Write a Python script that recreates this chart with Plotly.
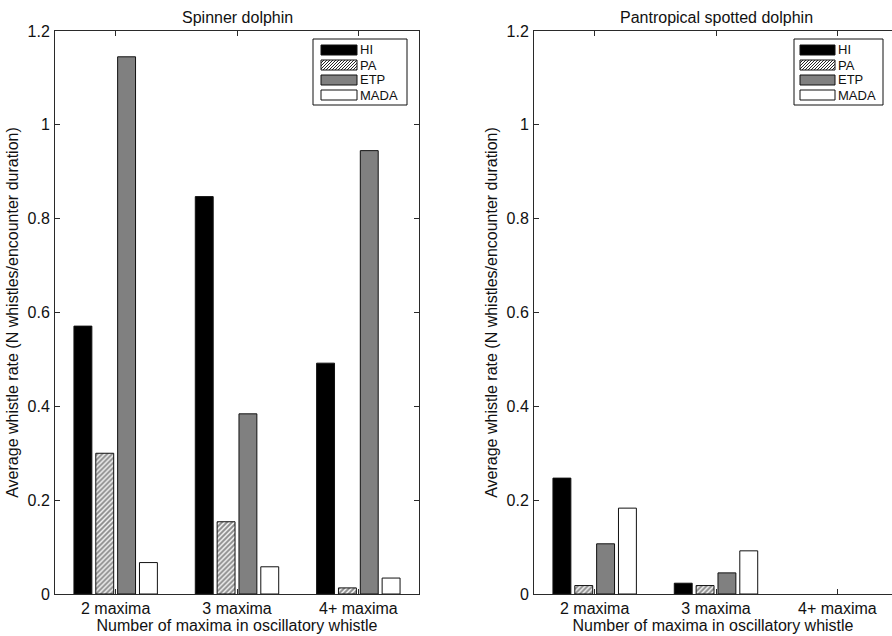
import plotly.graph_objects as go

# ---------------- data ----------------
categories = ["2 maxima", "3 maxima", "4+ maxima"]
cat_pos = [1, 2, 3]
series_names = ["HI", "PA", "ETP", "MADA"]

spinner_HI = [0.571, 0.847, 0.492]
spinner_PA = [0.300, 0.154, 0.013]
spinner_ETP = [1.145, 0.384, 0.945]
spinner_MADA = [0.067, 0.058, 0.034]

spotted_HI = [0.247, 0.023, 0.0]
spotted_PA = [0.018, 0.018, 0.0]
spotted_ETP = [0.107, 0.045, 0.0]
spotted_MADA = [0.183, 0.092, 0.0]

y_ticks = [0, 0.2, 0.4, 0.6, 0.8, 1.0, 1.2]
y_tick_text = ["0", "0.2", "0.4", "0.6", "0.8", "1", "1.2"]

panel_titles = ["Spinner dolphin", "Pantropical spotted dolphin"]
x_title = "Number of maxima in oscillatory whistle"
y_title = "Average whistle rate (N whistles/encounter duration)"

# ---------------- styling ----------------
W, H = 892, 636
FONT = "Liberation Sans, Arial, Helvetica, sans-serif"
AX = "#2a2a2a"
styles = {
    "HI": dict(color="black"),
    "PA": dict(color="white", pattern=dict(shape="/", fgcolor="#1a1a1a", bgcolor="white", size=3.5, solidity=0.6)),
    "ETP": dict(color="#808080"),
    "MADA": dict(color="white"),
}

def px_x(p):
    return p / W

def px_y(p):
    return 1 - p / H

fig = go.Figure()

panels = [
    ("x", "y", [spinner_HI, spinner_PA, spinner_ETP, spinner_MADA]),
    ("x2", "y2", [spotted_HI, spotted_PA, spotted_ETP, spotted_MADA]),
]
for xa, ya, vals in panels:
    for name, v in zip(series_names, vals):
        st = styles[name]
        widths = [1 if val > 0 else 0 for val in v]
        marker = dict(color=st["color"], line=dict(color="#111111", width=widths))
        if "pattern" in st:
            marker["pattern"] = st["pattern"]
        fig.add_trace(go.Bar(x=cat_pos, y=v, name=name, marker=marker,
                             xaxis=xa, yaxis=ya, showlegend=False,
                             hoverinfo="x+y+name"))

y_dom = [px_y(594), px_y(31)]
common_x = dict(tickmode="array", tickvals=cat_pos, ticktext=categories,
                ticks="inside", ticklen=5, tickcolor=AX, showline=True,
                linecolor=AX, linewidth=1, showgrid=False, zeroline=False,
                tickfont=dict(size=16, color="#111"), automargin=False,
                ticklabelstandoff=0,
                title=dict(text=x_title, font=dict(size=16, color="#111"), standoff=0))
common_y = dict(tickmode="array", tickvals=y_ticks, ticktext=y_tick_text,
                range=[0, 1.2], ticks="inside", ticklen=5, tickcolor=AX,
                showline=True, linecolor=AX, linewidth=1, showgrid=False,
                zeroline=False, tickfont=dict(size=16, color="#111"),
                automargin=False, domain=y_dom, ticklabelstandoff=1,
                title=dict(text=y_title, font=dict(size=16, color="#111"), standoff=4))

fig.update_layout(
    width=W, height=H,
    margin=dict(l=0, r=0, t=0, b=0, pad=0),
    paper_bgcolor="white", plot_bgcolor="white",
    font=dict(family=FONT, color="#111"),
    barmode="group", bargap=0.28, bargroupgap=0.18,
    xaxis=dict(common_x, domain=[px_x(55), px_x(419)], range=[0.5, 3.5],
               mirror="ticks", anchor="y"),
    yaxis=dict(common_y, mirror="ticks", anchor="x"),
    xaxis2=dict(common_x, domain=[px_x(534), 1.0], range=[0.5, 0.5 + 358 / (364 / 3)],
                mirror="ticks", anchor="y2"),
    yaxis2=dict(common_y, mirror=False, anchor="x2"),
)

annotations = []
# panel titles
annotations.append(dict(text=panel_titles[0], x=px_x(237), y=px_y(18), xref="paper", yref="paper",
                        showarrow=False, font=dict(size=16, color="#111"), xanchor="center", yanchor="middle"))
annotations.append(dict(text=panel_titles[1], x=px_x(716), y=px_y(18), xref="paper", yref="paper",
                        showarrow=False, font=dict(size=16, color="#111"), xanchor="center", yanchor="middle"))

shapes = []

def add_legend(x0, x1, y0, y1, sw_x0, sw_x1, txt_x):
    shapes.append(dict(type="rect", xref="paper", yref="paper",
                       x0=px_x(x0), x1=px_x(x1), y0=px_y(y0), y1=px_y(y1),
                       line=dict(color="#111", width=1), fillcolor="white", layer="above"))
    row_tops = [45, 60, 75, 90]
    for name, top in zip(series_names, row_tops):
        bot = top + 10
        st = styles[name]
        shapes.append(dict(type="rect", xref="paper", yref="paper",
                           x0=px_x(sw_x0), x1=px_x(sw_x1), y0=px_y(bot), y1=px_y(top),
                           line=dict(color="#111", width=1), fillcolor=st["color"], layer="above"))
        if name == "PA":
            path = ""
            step = 3
            xs = sw_x0 - 10
            while xs < sw_x1:
                ax0, ay0 = xs, bot
                ax1, ay1 = xs + 10, top
                if ax0 < sw_x0:
                    ay0 = bot - (sw_x0 - ax0)
                    ax0 = sw_x0
                if ax1 > sw_x1:
                    ay1 = top + (ax1 - sw_x1)
                    ax1 = sw_x1
                if ax1 > ax0:
                    path += f"M {px_x(ax0):.5f},{px_y(ay0):.5f} L {px_x(ax1):.5f},{px_y(ay1):.5f} "
                xs += step
            shapes.append(dict(type="path", xref="paper", yref="paper", path=path,
                               line=dict(color="#222", width=1), layer="above"))
        annotations.append(dict(text=name, x=px_x(txt_x), y=px_y(top + 5), xref="paper", yref="paper",
                                showarrow=False, xanchor="left", yanchor="middle",
                                font=dict(size=13, color="#111")))

add_legend(313, 407, 39, 105, 321, 357, 358)
add_legend(794, 883, 39, 105, 800, 835, 836)

fig.update_layout(annotations=annotations, shapes=shapes)

fig.write_html("out.html",
               config=dict(displayModeBar=False),
               post_script="document.body.style.margin='0';document.body.style.overflow='hidden';")
